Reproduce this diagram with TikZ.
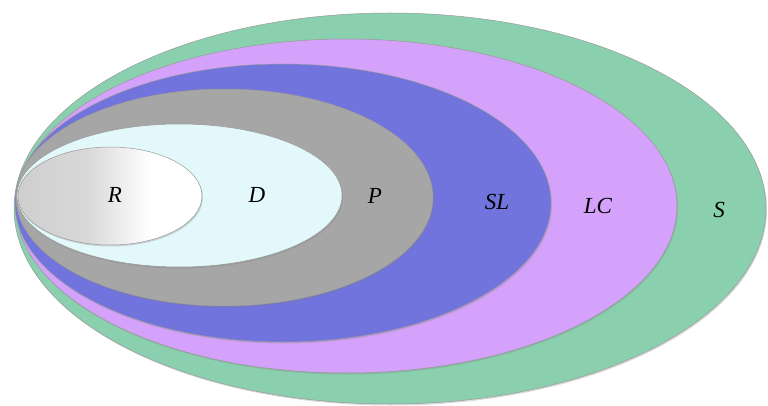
\documentclass[tikz,border=0pt]{standalone}
\usepackage{fontspec}
\setmainfont{Liberation Serif}
\usetikzlibrary{shadows}
\definecolor{sgreen}{RGB}{138,208,174}
\definecolor{lcviolet}{RGB}{212,162,250}
\definecolor{slblue}{RGB}{112,116,220}
\definecolor{pgray}{RGB}{166,166,166}
\definecolor{dcyan}{RGB}{226,248,250}
\pgfdeclarehorizontalshading{rshade}{100bp}{color(0bp)=(black!19); color(25bp)=(black!19); color(44bp)=(black!15); color(61bp)=(white); color(100bp)=(white)}
\tikzset{
  zone/.style={draw=black!40, line width=0.5pt, drop shadow={shadow xshift=1pt, shadow yshift=-1.5pt, opacity=0.3}},
  lbl/.style={font=\fontsize{23}{25}\selectfont\itshape, inner sep=0pt}
}

\begin{document}
\begin{tikzpicture}[x=1pt, y=-1pt]
			%%%%% START %%%%%
			\useasboundingbox (0, 0) rectangle (768, 406);
			
			\draw[zone, fill=sgreen] (390, 208.5) ellipse [x radius=376, y radius=195.5];
			\draw[zone, fill=lcviolet] (346.5, 206) ellipse [x radius=330.5, y radius=167];
			\draw[zone, fill=slblue] (283, 203) ellipse [x radius=268, y radius=139];
			\draw[zone, fill=pgray] (224.5, 197.5) ellipse [x radius=208.5, y radius=108.5];
			\draw[zone, fill=dcyan] (179.5, 195.5) ellipse [x radius=162.5, y radius=71.5];
			\draw[zone, shading=rshade] (110, 196) ellipse [x radius=92, y radius=49];
			
			\node[lbl] (r) at (115, 195) {R};
			\node[lbl] (d) at (257, 195) {D};
			\node[lbl] (p) at (375, 196) {P};
			\node[lbl] (sl) at (497, 202) {SL};
			\node[lbl] (lc) at (598, 206) {LC};
			\node[lbl] (s) at (719, 210) {S};
			
			%%%%% END %%%%%
		\end{tikzpicture}
\end{document}
